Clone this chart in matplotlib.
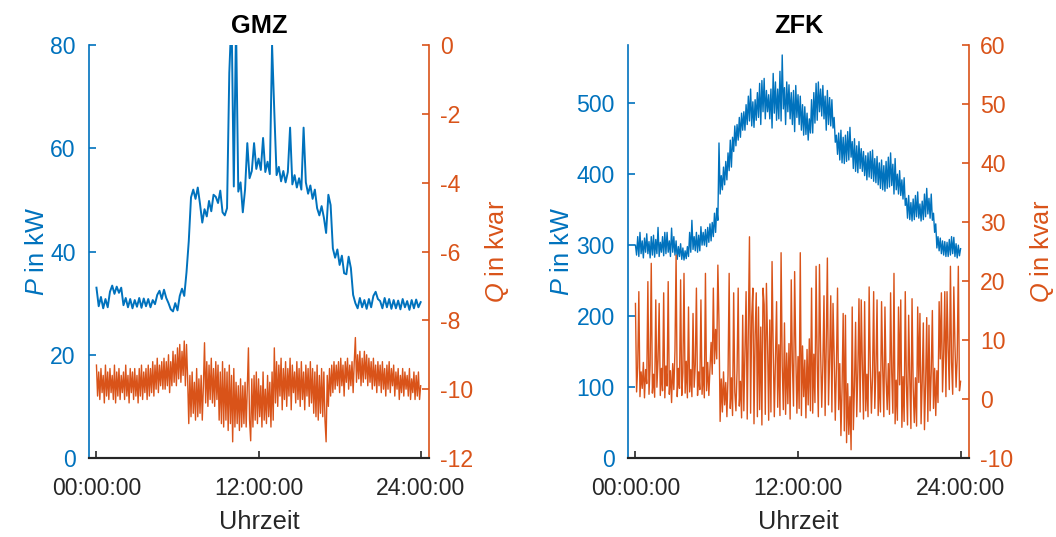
import numpy as np
import matplotlib
matplotlib.use("Agg")
import matplotlib.pyplot as plt

plt.rcParams['font.family'] = ['Liberation Sans', 'DejaVu Sans']
plt.rcParams['mathtext.fontset'] = 'custom'
plt.rcParams['mathtext.it'] = 'Liberation Sans:italic'
plt.rcParams['mathtext.rm'] = 'Liberation Sans'
plt.rcParams['axes.unicode_minus'] = False

BLUE = '#0072BD'
ORANGE = '#D95319'
GREY = '#262626'

# time axes in hours: 10 minute steps and 5 minute steps
hours = np.arange(145) / 6.0
hours_fine = np.arange(289) / 12.0
tick_hours = [0, 12, 24]
tick_labels = ['00:00:00', '12:00:00', '24:00:00']

# GMZ active power in kW (6 values per hour)
gmz_p = [
    33.0, 29.4, 31.2, 29.0, 30.8, 29.2,
    32.2, 33.4, 31.8, 33.2, 32.0, 33.0,
    29.6, 31.0, 29.2, 30.8, 29.0, 30.6,
    29.3, 31.0, 29.1, 30.9, 29.4, 30.8,
    29.2, 30.6, 29.8, 31.6, 32.4, 30.8,
    32.6, 31.0, 30.0, 28.8, 28.4, 30.0,
    28.6, 31.4, 32.8, 31.4, 36.0, 42.0,
    50.5, 52.0, 50.2, 52.4, 49.2, 45.6,
    48.2, 46.8, 49.8, 47.8, 51.0, 50.6,
    49.4, 51.8, 47.6, 47.0, 48.4, 74.6,
    86.0, 52.6, 84.0, 51.6, 53.4, 47.6,
    52.0, 61.0, 54.2, 55.6, 61.0, 56.0,
    58.0, 55.8, 62.0, 55.4, 57.4, 55.0,
    80.0, 67.0, 54.8, 56.4, 53.6, 55.6,
    53.4, 55.4, 64.0, 53.0, 54.8, 52.4,
    54.2, 52.0, 64.0, 53.4, 51.2, 52.8,
    50.2, 52.0, 48.4, 47.0, 48.8, 46.6,
    43.6, 51.0, 49.0, 40.6, 38.8, 40.4,
    37.4, 39.2, 35.8, 35.6, 39.0, 36.8,
    31.6, 30.0, 29.0, 31.0, 29.2, 30.6,
    28.9, 30.8, 29.2, 31.4, 32.2, 30.8,
    30.4, 29.0, 31.0, 29.2, 30.8, 28.9,
    30.6, 29.0, 30.5, 28.8, 30.8, 29.2,
    30.4, 28.7, 30.6, 29.0, 30.7, 29.2,
    30.2,
]

# GMZ reactive power in kvar (12 values per hour)
gmz_q = [
    -9.3, -10.2, -9.5, -10.3, -9.4, -10.1, -9.6, -10.4, -9.3, -10.2, -9.5, -10.3,
    -9.4, -10.1, -9.6, -10.3, -9.3, -10.4, -9.5, -10.2, -9.4, -10.3, -9.6, -10.1,
    -9.5, -10.3, -9.3, -10.2, -9.6, -10.4, -9.4, -10.1, -9.5, -10.3, -9.4, -10.2,
    -9.6, -10.4, -9.4, -10.2, -9.3, -10.3, -9.5, -10.1, -9.4, -10.3, -9.3, -10.2,
    -9.4, -10.1, -9.2, -10.2, -9.3, -10.0, -9.1, -10.1, -9.3, -9.9, -9.2, -10.0,
    -9.1, -10.0, -9.2, -9.9, -9.0, -10.1, -9.2, -9.9, -8.9, -9.8, -9.0, -9.9,
    -8.8, -9.7, -8.7, -9.8, -8.9, -9.6, -8.6, -9.9, -8.7, -9.7, -11.0, -9.6,
    -10.8, -9.5, -10.7, -9.8, -10.9, -9.4, -10.8, -9.7, -10.7, -9.6, -10.9, -9.9,
    -8.65, -10.4, -9.2, -10.5, -9.3, -10.3, -9.1, -10.4, -9.4, -10.5, -9.2, -10.3,
    -9.3, -10.9, -9.5, -11.0, -9.2, -11.1, -9.4, -10.9, -9.5, -11.2, -9.3, -11.0,
    -9.6, -11.53, -9.4, -11.1, -9.8, -11.0, -9.9, -11.2, -9.7, -11.1, -9.9, -11.0,
    -9.8, -11.1, -9.9, -8.8, -10.9, -11.5, -9.7, -11.1, -9.6, -10.9, -9.5, -11.0,
    -9.7, -10.8, -9.9, -11.1, -9.5, -10.9, -10.0, -11.0, -9.6, -10.8, -9.8, -11.1,
    -9.5, -10.9, -8.8, -10.4, -9.2, -10.5, -9.3, -10.2, -9.1, -10.6, -9.4, -10.3,
    -9.2, -10.5, -9.4, -10.2, -9.1, -10.6, -9.3, -10.1, -9.5, -10.4, -9.2, -10.3,
    -9.4, -10.5, -9.2, -10.3, -9.5, -10.6, -9.3, -10.2, -9.4, -10.5, -9.2, -10.4,
    -9.4, -10.7, -9.5, -10.8, -9.3, -10.9, -9.6, -10.7, -9.4, -10.8, -9.5, -10.9,
    -11.53, -9.6, -10.5, -9.4, -10.2, -9.3, -10.1, -9.2, -10.0, -9.3, -9.9, -9.2,
    -10.1, -9.1, -9.9, -9.3, -10.2, -9.2, -9.8, -9.1, -10.0, -9.3, -9.9, -9.2,
    -10.1, -9.2, -8.5, -9.8, -9.0, -9.7, -8.9, -9.9, -9.1, -9.8, -8.9, -9.7,
    -9.0, -9.9, -9.1, -9.8, -9.2, -10.0, -9.1, -9.9, -9.3, -10.1, -9.2, -9.9,
    -9.3, -10.1, -9.2, -10.0, -9.4, -10.2, -9.3, -10.0, -9.2, -10.1, -9.4, -9.9,
    -9.3, -10.2, -9.5, -10.0, -9.4, -10.3, -9.6, -10.1, -9.4, -10.2, -9.5, -10.0,
    -9.6, -10.2, -9.4, -10.3, -9.7, -10.1, -9.5, -10.3, -9.6, -10.2, -9.5, -10.3,
    -9.9,
]

# ZFK active power in kW (12 values per hour)
zfk_p = [
    300, 286, 312, 284, 318, 288, 306, 282, 310, 290, 316, 288,
    305, 282, 312, 286, 314, 283, 308, 288, 325, 284, 304, 290,
    312, 285, 318, 288, 318, 290, 306, 284, 324, 290, 312, 286,
    306, 280, 298, 284, 302, 280, 296, 279, 292, 281, 298, 284,
    318, 290, 335, 294, 312, 292, 318, 290, 314, 292, 326, 300,
    318, 300, 322, 298, 325, 304, 330, 306, 332, 312, 345, 318,
    352, 335, 444, 372, 398, 378, 410, 385, 418, 392, 430, 405,
    448, 410, 452, 432, 468, 440, 470, 448, 480, 452, 486, 462,
    488, 462, 498, 470, 510, 475, 520, 468, 502, 466, 505, 476,
    515, 480, 528, 470, 532, 488, 535, 478, 518, 488, 512, 478,
    520, 465, 542, 486, 530, 476, 520, 478, 545, 475, 568, 492,
    522, 470, 530, 488, 526, 478, 515, 470, 518, 460, 525, 480,
    512, 470, 510, 462, 498, 455, 495, 456, 486, 448, 478, 458,
    505, 458, 515, 472, 528, 476, 530, 488, 520, 482, 525, 478,
    510, 462, 518, 470, 508, 468, 505, 465, 480, 445, 455, 428,
    458, 420, 462, 416, 452, 415, 455, 418, 460, 420, 466, 424,
    446, 408, 450, 404, 440, 402, 446, 408, 436, 404, 432, 398,
    426, 392, 430, 396, 432, 394, 434, 390, 422, 388, 425, 385,
    416, 380, 420, 378, 412, 376, 418, 380, 424, 382, 430, 384,
    414, 372, 422, 378, 400, 372, 405, 370, 392, 365, 395, 356,
    366, 338, 370, 336, 360, 334, 365, 336, 370, 340, 375, 338,
    358, 334, 362, 336, 372, 340, 380, 344, 366, 338, 372, 335,
    345, 318, 330, 296, 312, 292, 310, 288, 306, 286, 305, 284,
    304, 284, 308, 286, 312, 288, 311, 284, 302, 282, 300, 285,
    295,
]

# ZFK reactive power in kvar (12 values per hour)
zfk_q = [
    16.2, 1.2, 5.4, 18.2, 0.4, 4.6, 1.8, 6.2, 0.2, 5.0, 2.6, 19.9,
    0.8, 5.8, 23.0, 1.0, 4.2, 0.3, 16.8, 2.0, 6.6, 16.2, 0.6, 5.2,
    1.4, 18.0, 0.2, 5.6, 2.2, 19.9, 0.8, 4.8, -0.6, 6.0, 1.6, 8.2,
    24.4, 0.4, 5.2, 1.8, 20.2, 0.6, 4.4, 21.3, 1.0, 6.4, 0.2, 15.6,
    1.2, 5.0, 0.4, 14.5, 2.0, 5.8, 18.8, 0.6, 4.6, 1.6, 16.8, 0.8,
    5.4, 0.2, 21.3, 1.4, 6.2, 0.6, 5.0, 9.6, 4.2, 18.8, 6.0, 11.8,
    6.8, 22.7, 13.0, -3.8, 3.4, -2.2, 4.6, -1.0, 2.8, -3.0, 4.0, 21.3,
    -1.6, 3.6, -2.8, 18.0, 1.2, -2.0, 4.8, 18.8, -1.2, 3.0, -3.2, 14.2,
    -2.0, 8.4, 18.2, -3.4, 12.6, 27.5, -2.4, 14.0, 18.8, -4.2, 10.8, 18.0,
    -3.0, 15.6, -1.8, 12.2, -4.4, 18.8, 16.0, -2.6, 19.6, 9.8, -3.6, 13.4,
    -2.2, 23.3, 8.6, -3.0, 6.4, 16.5, -1.4, 9.2, -2.8, 24.8, 5.6, -1.8,
    12.9, -2.6, 7.8, -0.8, 9.4, -3.4, 20.2, 6.2, -1.2, 21.6, 8.0, -2.4,
    7.2, -1.6, 24.8, -2.8, 9.0, 0.4, 6.6, -3.2, 8.4, -1.0, 10.2, -2.0,
    18.8, -2.4, 7.6, -0.6, 22.5, 6.0, -3.0, 22.8, 8.2, -1.4, 5.8, 17.5,
    -2.8, 9.0, 23.9, -1.0, 6.8, 17.5, -2.2, 16.2, 7.4, -3.6, 5.2, 18.8,
    -1.8, 6.0, -6.2, 1.8, 14.5, -5.4, 14.2, -7.4, 2.6, -6.0, 0.4, -8.6,
    15.6, -5.2, 2.2, 13.0, -3.0, 4.8, 17.0, -2.2, 16.8, 5.4, -3.4, 16.5,
    -2.0, 4.2, -3.0, 19.0, 5.6, -2.4, 3.8, 18.2, -1.6, 5.0, 16.8, -2.8,
    4.6, -2.2, 16.5, 5.2, -3.0, 15.6, 3.6, -1.8, 6.0, -2.6, 18.0, 4.4,
    -2.4, 21.3, -4.2, 3.2, -3.6, 15.6, 2.4, 16.8, -4.8, 3.8, -3.8, 18.2,
    2.6, -4.4, 14.2, 3.4, -5.0, 17.0, 2.0, -4.0, 3.6, -4.6, 15.6, 2.8,
    14.5, -4.2, 3.0, 12.9, -5.2, 2.4, 13.8, -3.8, 12.5, -2.0, 4.6, 15.0,
    -1.6, 5.2, -2.8, 4.8, -0.6, 16.5, 6.8, 18.0, 1.2, 7.6, 18.2, 0.4,
    18.2, 8.4, 1.6, 22.5, 6.2, 0.8, 19.0, 9.2, 2.0, 7.0, 22.5, 1.4,
    3.0,
]

FS_TICK = 16.6
FS_LABEL = 18.3

fig = plt.figure(figsize=(10.56, 5.37), dpi=100)


def panel(rect, title, p_t, p, q_t, q, p_lim, p_ticks, q_lim, q_ticks,
          lx, rx, p_lw):
    ax = fig.add_axes(rect)
    ax2 = ax.twinx()
    ax.plot(p_t, p, color=BLUE, lw=p_lw)
    ax2.plot(q_t, q, color=ORANGE, lw=1.0)

    ax.set_xlim(-0.55, 24.62)
    ax.set_ylim(*p_lim)
    ax2.set_ylim(*q_lim)
    ax.set_yticks(p_ticks)
    ax2.set_yticks(q_ticks)
    ax.set_xticks(tick_hours)
    ax.set_xticklabels(tick_labels)

    for a in (ax, ax2):
        a.spines['top'].set_visible(False)
        a.spines['bottom'].set_color(GREY)
        a.spines['bottom'].set_linewidth(1.5)
    ax.spines['right'].set_visible(False)
    ax2.spines['left'].set_visible(False)
    ax.spines['left'].set_color(BLUE)
    ax.spines['left'].set_linewidth(1.2)
    ax2.spines['right'].set_color(ORANGE)
    ax2.spines['right'].set_linewidth(1.2)

    ax.tick_params(axis='x', direction='in', length=5, width=1.2,
                   colors=GREY, labelsize=FS_TICK, pad=14)
    ax.tick_params(axis='y', direction='in', length=5, width=1.2,
                   colors=BLUE, labelsize=FS_TICK, pad=9.5)
    ax2.tick_params(axis='y', direction='in', length=5, width=1.2,
                    colors=ORANGE, labelsize=FS_TICK, pad=8)

    ax.set_title(title, fontsize=FS_LABEL, fontweight='bold', pad=9)
    ax.set_xlabel('Uhrzeit', fontsize=FS_LABEL, color=GREY, labelpad=7)
    ax.set_ylabel('$P$ in kW', fontsize=FS_LABEL, color=BLUE)
    ax2.set_ylabel('$Q$ in kvar', fontsize=FS_LABEL, color=ORANGE)
    ax.yaxis.set_label_coords(lx, 0.5)
    ax2.yaxis.set_label_coords(rx, 0.5)


panel([0.0843, 0.1471, 0.322, 0.769], 'GMZ', hours, gmz_p, hours_fine, gmz_q,
      (0, 80), [0, 20, 40, 60, 80], (-12, 0), [-12, -10, -8, -6, -4, -2, 0],
      -0.118, 1.16, 1.4)
panel([0.5947, 0.1471, 0.3229, 0.769], 'ZFK', hours_fine, zfk_p,
      hours_fine, zfk_q, (0, 582), [0, 100, 200, 300, 400, 500], (-10, 60),
      [-10, 0, 10, 20, 30, 40, 50, 60], -0.158, 1.172, 1.0)

fig.savefig('out.png', dpi=100)
